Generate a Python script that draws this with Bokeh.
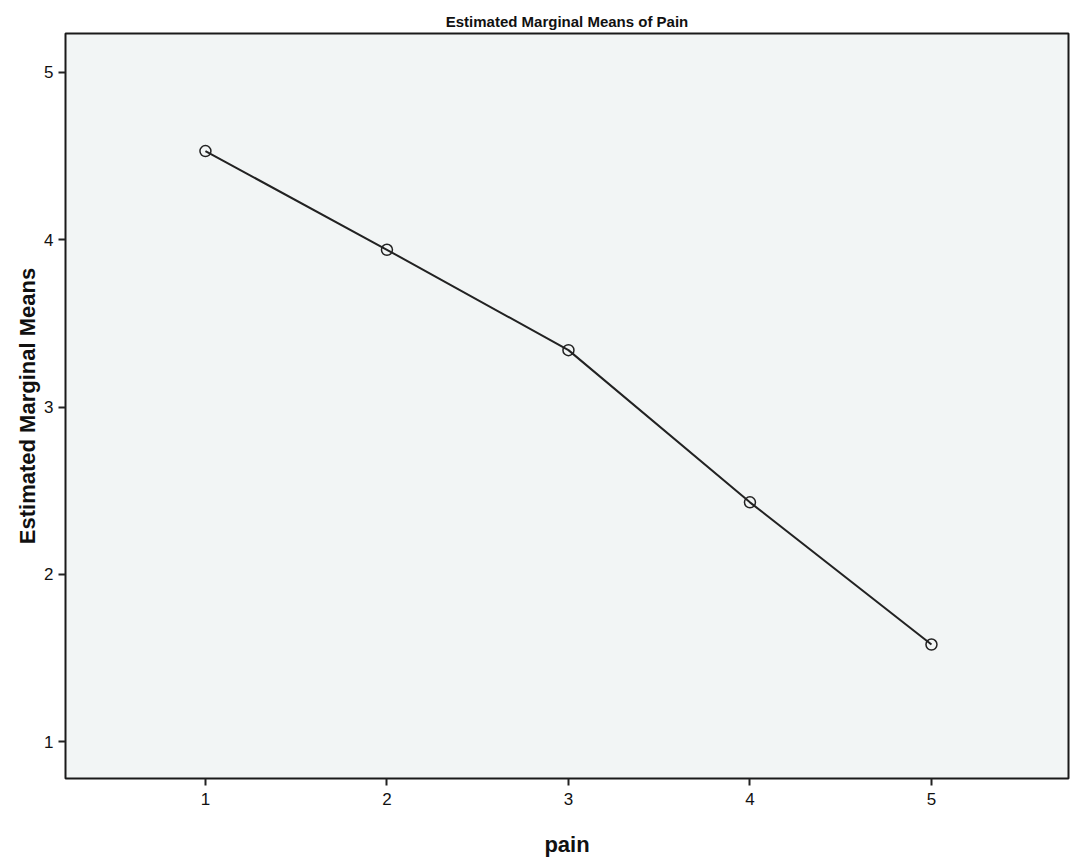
from bokeh.plotting import figure
from bokeh.models import Range1d, FixedTicker
from bokeh.embed import file_html
from bokeh.resources import INLINE

pain = [1, 2, 3, 4, 5]
means = [4.53, 3.94, 3.34, 2.43, 1.58]
x_ticks = [1, 2, 3, 4, 5]
y_ticks = [1, 2, 3, 4, 5]

p = figure(width=1074, height=862, output_backend="svg", toolbar_location=None,
           x_range=Range1d(0.229, 5.755), y_range=Range1d(0.779, 5.233),
           title="Estimated Marginal Means of Pain",
           x_axis_label="pain", y_axis_label="Estimated Marginal Means")
p.frame_width = 1003
p.frame_height = 745
p.min_border_left = 65
p.min_border_right = 6
p.min_border_top = 33
p.min_border_bottom = 84

p.background_fill_color = "#f2f5f5"
p.border_fill_color = "white"
p.outline_line_color = "#1a1a1a"
p.outline_line_width = 2
p.xgrid.visible = False
p.ygrid.visible = False

p.title.align = "center"
p.title.text_font = "Liberation Sans"
p.title.text_font_size = "15px"
p.title.text_font_style = "bold"
p.title.text_color = "#111111"
p.title.offset = 0
p.title.standoff = 8

for ax in (p.xaxis[0], p.yaxis[0]):
    ax.axis_line_color = None
    ax.major_tick_in = 0
    ax.major_tick_out = 7
    ax.major_tick_line_width = 2
    ax.major_tick_line_color = "#222222"
    ax.minor_tick_line_color = None
    ax.major_label_text_font = "Liberation Sans"
    ax.major_label_text_font_size = "17px"
    ax.major_label_text_color = "#111111"
    ax.axis_label_text_font = "Liberation Sans"
    ax.axis_label_text_font_size = "22px"
    ax.axis_label_text_font_style = "bold"
    ax.axis_label_text_color = "#111111"

p.xaxis.ticker = FixedTicker(ticks=x_ticks)
p.yaxis.ticker = FixedTicker(ticks=y_ticks)
p.xaxis.major_label_standoff = 7
p.yaxis.major_label_standoff = 5
p.xaxis.axis_label_standoff = 24
p.yaxis.axis_label_standoff = 1

p.line(pain, means, line_color="#222222", line_width=2)
p.scatter(pain, means, marker="circle", size=11, fill_color=None,
          line_color="#222222", line_width=1.5)

open("out.html", "w").write(file_html(p, INLINE))
